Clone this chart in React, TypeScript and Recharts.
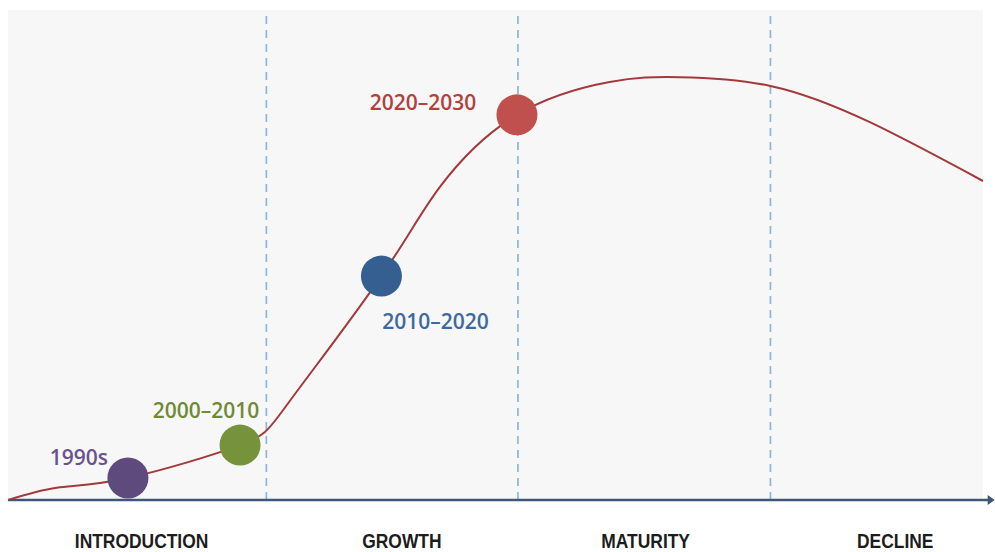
import {
  CartesianGrid,
  ComposedChart,
  Line,
  ReferenceLine,
  Scatter,
  XAxis,
  YAxis,
  Cell,
} from "recharts";

// life-cycle curve, x = position along the timeline (0-100), y = adoption (0-100)
const curveX = [0, 5.0, 12.3, 23.8, 28.9, 38.3, 44.3, 52.2, 61.7, 68.9, 78.2, 88.4, 100];
const curveY = [0, 2.5, 4.5, 11.2, 20.2, 45.7, 63.9, 78.6, 85.3, 86.3, 84.5, 77.1, 65.1];

const milestoneLabels = ["1990s", "2000–2010", "2010–2020", "2020–2030"];
const milestoneX = [12.3, 23.8, 38.3, 52.2];
const milestoneY = [4.5, 11.2, 45.7, 78.6];

const stageNames = ["INTRODUCTION", "GROWTH", "MATURITY", "DECLINE"];
const stageLabelX = [13.7, 40.4, 65.4, 91.0];
const stageBoundaries = [26.5, 52.3, 78.2];

const curveData = curveX.map((x, i) => ({ x, y: curveY[i] }));
const milestoneData = milestoneLabels.map((label, i) => ({
  x: milestoneX[i],
  y: milestoneY[i],
  label,
}));

const dotColors = ["#5f4a7d", "#76933c", "#365f91", "#c0504d"];
const textColors = ["#6a5290", "#6f8a36", "#3c69a0", "#b3403d"];
// label offsets from the dot centre (px)
const labelOffsets = [
  [-49, -21],
  [-34, -35],
  [54, 45],
  [-94, -13],
];

const labelFont = "'Open Sans', 'DejaVu Sans', sans-serif";
const stageFont = "'Liberation Sans', Arial, sans-serif";

function MilestoneDot(props: any) {
  const { cx, cy, payload, fill } = props;
  const i = milestoneLabels.indexOf(payload.label);
  const [dx, dy] = labelOffsets[i];
  return (
    <g>
      <circle cx={cx} cy={cy} r={20.5} fill={fill} />
      <text
        x={cx + dx}
        y={cy + dy}
        textAnchor="middle"
        dominantBaseline="central"
        fill={textColors[i]}
        fontSize={21}
        fontWeight={600}
        fontFamily={labelFont}
      >
        {payload.label}
      </text>
    </g>
  );
}

function StageTick(props: any) {
  const { x, payload, index } = props;
  return (
    <g transform={`translate(${x},548) scale(0.83,1)`}>
      <text
        x={0}
        y={0}
        textAnchor="middle"
        fill="#1c1c1c"
        fontSize={21}
        fontWeight={700}
        fontFamily={stageFont}
      >
        {stageNames[index] ?? payload.value}
      </text>
    </g>
  );
}

function ArrowAxis(props: any) {
  const { x1, y1, x2, y2 } = props;
  return (
    <g>
      <line x1={x1} y1={y1} x2={x2 - 4} y2={y2} stroke="#3d5775" strokeWidth={2.5} />
      <path d={`M${x2 - 7},${y2 - 5} L${x2},${y2} L${x2 - 7},${y2 + 5} Z`} fill="#3d5775" />
    </g>
  );
}

export default function App() {
  return (
    <div style={{ position: "absolute", left: 0, top: 0, background: "#fff" }}>
      <ComposedChart
        width={995}
        height={552}
        margin={{ top: 10, right: 12, bottom: 0, left: 8 }}
      >
        <CartesianGrid horizontal={false} vertical={false} fill="#f7f7f7" stroke="none" />
        <XAxis
          type="number"
          dataKey="x"
          domain={[0, 100]}
          ticks={stageLabelX}
          axisLine={false}
          tickLine={false}
          height={52}
          interval={0}
          allowDataOverflow
          tick={<StageTick />}
        />
        <YAxis type="number" dataKey="y" domain={[0, 100]} hide />
        {stageBoundaries.map((b) => (
          <ReferenceLine
            key={b}
            x={b}
            stroke="#8db4e2"
            strokeWidth={1.7}
            strokeDasharray="8 6"
          />
        ))}
        <ReferenceLine
          segment={[
            { x: 0, y: 0 },
            { x: 101.2, y: 0 },
          ]}
          ifOverflow="visible"
          shape={ArrowAxis}
        />
        <Line
          data={curveData}
          dataKey="y"
          type="natural"
          stroke="#a3393b"
          strokeWidth={2}
          dot={false}
          activeDot={false}
          isAnimationActive={false}
        />
        <Scatter
          data={milestoneData}
          dataKey="y"
          shape={MilestoneDot}
          isAnimationActive={false}
        >
          {milestoneData.map((m, i) => (
            <Cell key={m.label} fill={dotColors[i]} />
          ))}
        </Scatter>
      </ComposedChart>
    </div>
  );
}
